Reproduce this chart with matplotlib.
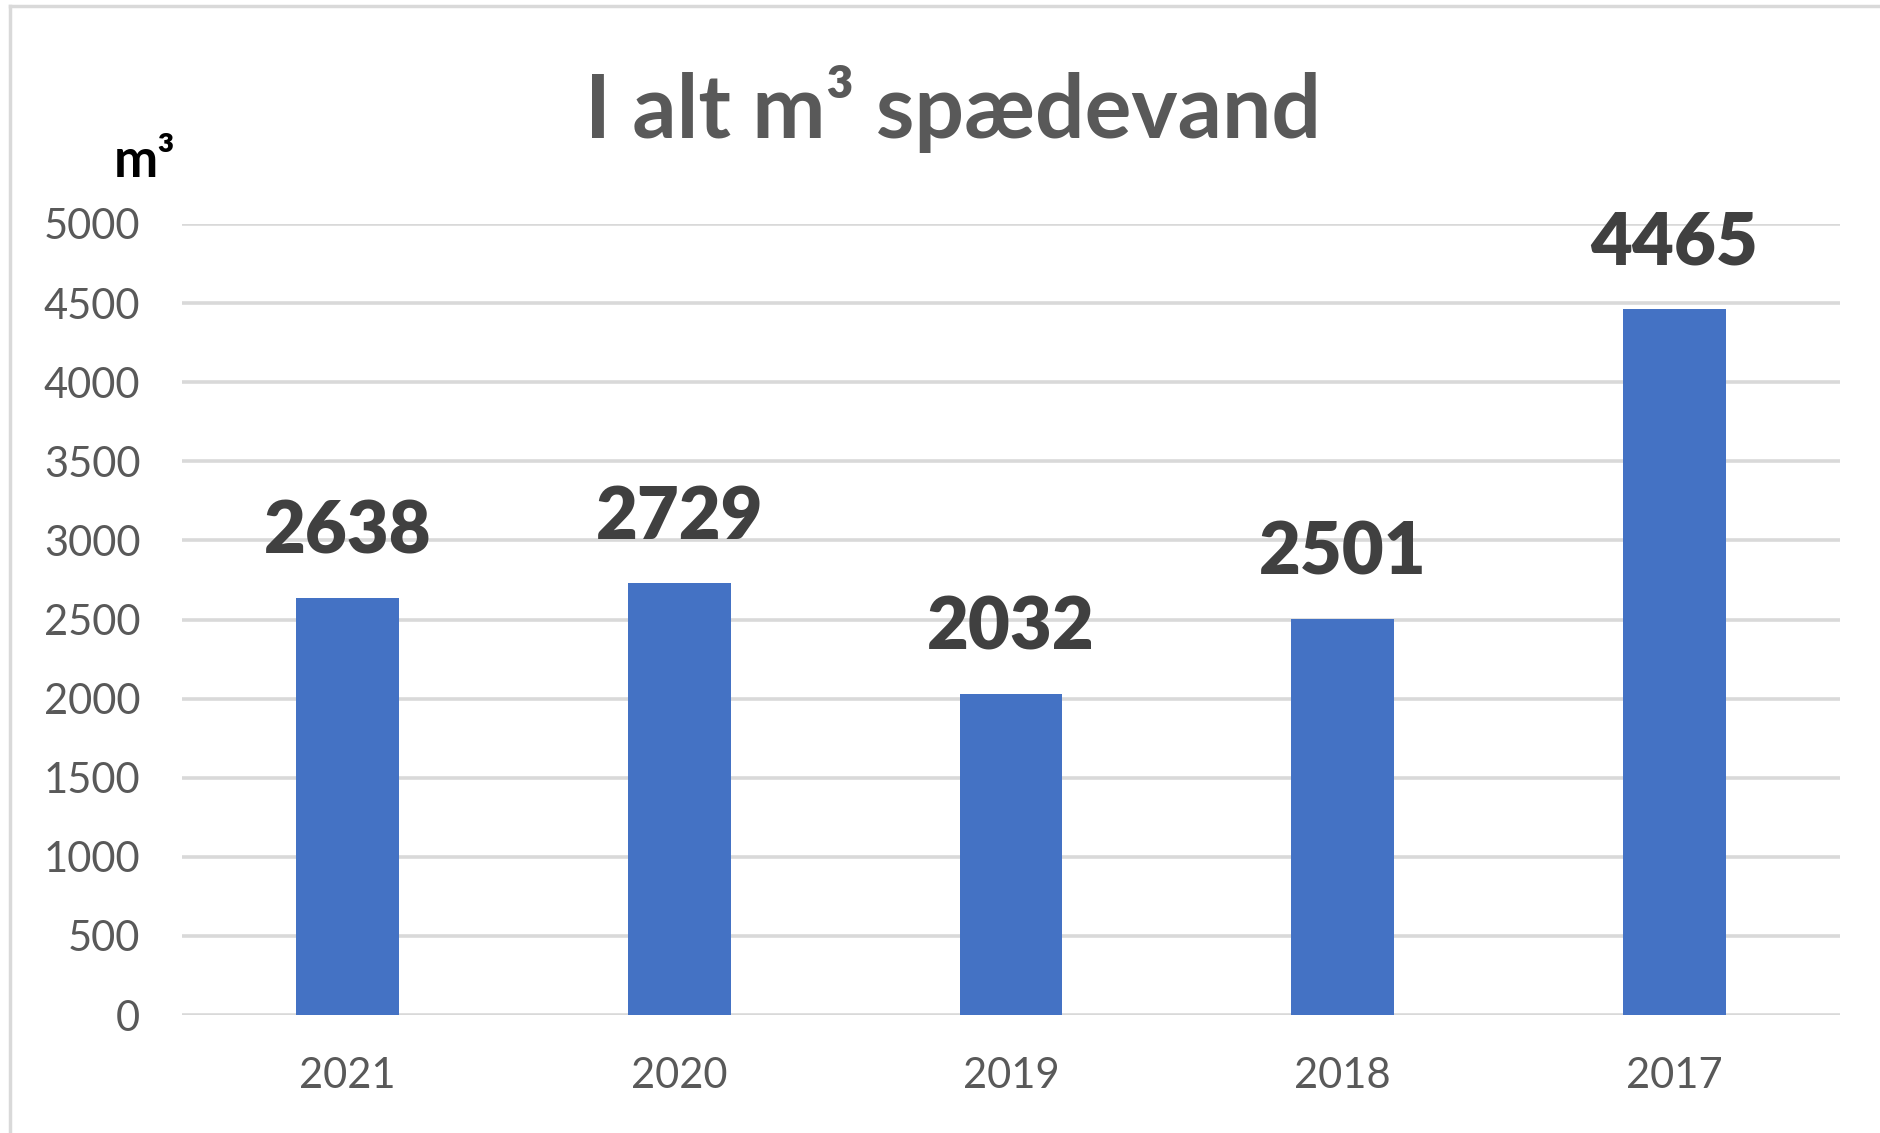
import matplotlib.pyplot as plt
from matplotlib.lines import Line2D

plt.rcParams['font.family'] = ['Lato', 'DejaVu Sans']

years = ['2021', '2020', '2019', '2018', '2017']
volumes = [2638, 2729, 2032, 2501, 4465]
yticks = [0, 500, 1000, 1500, 2000, 2500, 3000, 3500, 4000, 4500, 5000]

grey_text = '#595959'
grid_col = '#d9d9d9'
bar_col = '#4472c4'

fig = plt.figure(figsize=(18.8, 11.33), dpi=100)
ax = fig.add_axes([0.0968, 0.1041, 0.8819, 0.6982])

x = range(len(years))
ax.bar(x, volumes, width=0.31, color=bar_col, zorder=3)

for xi, v in zip(x, volumes):
    ax.annotate(str(v), (xi, v), xytext=(0, 32), textcoords='offset points',
                ha='center', va='baseline', fontsize=52, fontweight='heavy',
                color='#404040')

ax.set_xlim(-0.5, len(years) - 0.5)
ax.set_ylim(0, 5000)
ax.set_yticks(yticks)
ax.set_xticks(list(x))
ax.set_xticklabels(years)
ax.tick_params(axis='y', length=0, pad=30, labelsize=30, labelcolor=grey_text)
ax.tick_params(axis='x', length=0, pad=30, labelsize=30, labelcolor=grey_text)
ax.grid(axis='y', color=grid_col, linewidth=2.6, zorder=0)
for s in ax.spines.values():
    s.set_visible(False)

# title and unit label
fig.text(0.507, 0.878, 'I alt m\u00b3 sp\u00e6devand', ha='center', va='baseline',
         fontsize=63, fontweight='bold', color=grey_text)
fig.text(0.077, 0.844, 'm\u00b3', ha='center', va='baseline',
         fontsize=38, fontweight='bold', color='black')

# chart border (only top and left edges fall inside the crop)
fig.add_artist(Line2D([0.0053, 1.0], [0.9947, 0.9947], color=grid_col, linewidth=2.5))
fig.add_artist(Line2D([0.0053, 0.0053], [0.0, 0.9947], color=grid_col, linewidth=2.5))

fig.savefig('out.png', dpi=100)
